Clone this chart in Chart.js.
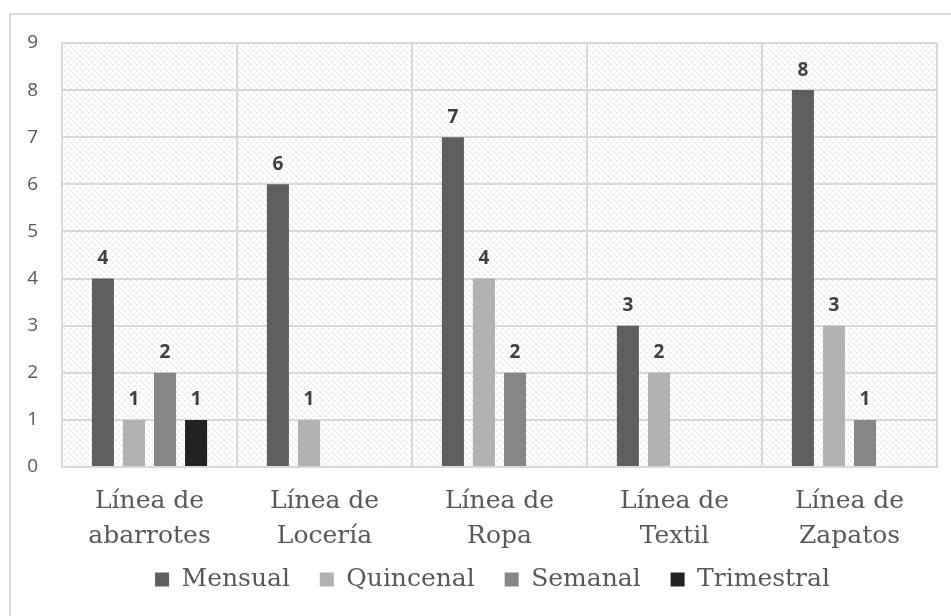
<!DOCTYPE html>
<html lang="es">
<head>
    <meta charset="UTF-8">
    <title>Frecuencia por línea</title>
    <script src="https://cdn.jsdelivr.net/npm/chart.js"></script>
    <style>
        body { margin: 0; background: #fff; }
        #wrap { width: 951px; height: 616px; }
    </style>
</head>
<body>
    <div id="wrap">
        <canvas id="chart" width="951" height="616"></canvas>
    </div>

    <script>
        const categorias = [
            ['Línea de', 'abarrotes'],
            ['Línea de', 'Locería'],
            ['Línea de', 'Ropa'],
            ['Línea de', 'Textil'],
            ['Línea de', 'Zapatos']
        ];
        const mensual = [4, 6, 7, 3, 8];
        const quincenal = [1, 1, 4, 2, 3];
        const semanal = [2, null, 2, null, 1];
        const trimestral = [1, null, null, null, null];
        const yTicks = [0, 1, 2, 3, 4, 5, 6, 7, 8, 9];

        const textColor = '#595959';
        const gridColor = '#d9d9d9';
        const serif = "'DejaVu Serif', serif";
        const sans = "'Open Sans', sans-serif";

        // patron rayado del fondo
        function makeHatch() {
            const c = document.createElement('canvas');
            c.width = 6; c.height = 6;
            const g = c.getContext('2d');
            g.fillStyle = '#ffffff';
            g.fillRect(0, 0, 6, 6);
            g.strokeStyle = '#dcdcdc';
            g.lineWidth = 1.2;
            g.setLineDash([2, 1.5]);
            g.beginPath();
            g.moveTo(-1, -1); g.lineTo(7, 7);
            g.moveTo(-4, 2); g.lineTo(4, 10);
            g.moveTo(2, -4); g.lineTo(10, 4);
            g.stroke();
            return c;
        }

        const fondo = {
            id: 'fondo',
            afterLayout(chart) {
                // la leyenda del original esta algo corrida a la derecha
                chart.legend.left += 24;
                chart.legend.right += 24;
            },
            beforeDraw(chart) {
                const ctx = chart.ctx;
                const a = chart.chartArea;
                ctx.save();
                ctx.fillStyle = '#fff';
                ctx.fillRect(0, 0, chart.width, chart.height);
                ctx.strokeStyle = gridColor;
                ctx.lineWidth = 2;
                ctx.strokeRect(10, 14, chart.width + 20, chart.height + 20);
                ctx.fillStyle = ctx.createPattern(makeHatch(), 'repeat');
                ctx.fillRect(a.left, a.top, a.right - a.left, a.bottom - a.top);
                ctx.restore();
            }
        };

        const etiquetas = {
            id: 'etiquetas',
            afterDatasetsDraw(chart) {
                const ctx = chart.ctx;
                ctx.save();
                ctx.font = 'bold 19px ' + sans;
                ctx.fillStyle = '#404040';
                ctx.textAlign = 'center';
                ctx.textBaseline = 'middle';
                chart.data.datasets.forEach((ds, i) => {
                    chart.getDatasetMeta(i).data.forEach((bar, j) => {
                        const v = ds.data[j];
                        if (v === null || v === undefined) return;
                        ctx.fillText(v, bar.x, bar.y - 20);
                    });
                });
                ctx.restore();
            }
        };

        new Chart(document.getElementById('chart'), {
            type: 'bar',
            data: {
                labels: categorias,
                datasets: [
                    { label: 'Mensual', data: mensual, backgroundColor: '#5f5f5f' },
                    { label: 'Quincenal', data: quincenal, backgroundColor: '#b2b2b2' },
                    { label: 'Semanal', data: semanal, backgroundColor: '#878787' },
                    { label: 'Trimestral', data: trimestral, backgroundColor: '#222222' }
                ]
            },
            options: {
                responsive: false,
                animation: false,
                categoryPercentage: 0.71,
                barPercentage: 0.71,
                layout: { padding: { left: 0, top: 43, right: 14, bottom: 14 } },
                plugins: {
                    legend: {
                        position: 'bottom',
                        labels: {
                            color: textColor,
                            font: { family: serif, size: 25 },
                            boxWidth: 14,
                            boxHeight: 14,
                            padding: 14,
                            generateLabels(chart) {
                                const items = Chart.defaults.plugins.legend.labels.generateLabels(chart);
                                items.forEach((it, i) => {
                                    if (i < items.length - 1) it.text += '  ';
                                });
                                return items;
                            }
                        }
                    },
                    tooltip: { enabled: false }
                },
                scales: {
                    x: {
                        grid: { color: gridColor, lineWidth: 2, drawTicks: false },
                        border: { color: gridColor, width: 2 },
                        ticks: {
                            color: textColor,
                            font: { family: serif, size: 25, lineHeight: 1.4 },
                            padding: 17,
                            maxRotation: 0
                        },
                        afterFit(s) { s.height = 86; }
                    },
                    y: {
                        min: 0,
                        max: 9,
                        grid: { color: gridColor, lineWidth: 2, drawTicks: false },
                        border: { color: gridColor, width: 2 },
                        afterBuildTicks(s) { s.ticks = yTicks.map(v => ({ value: v })); },
                        ticks: {
                            color: textColor,
                            font: { family: sans, size: 19 },
                            padding: 24
                        },
                        afterFit(s) { s.width = 62; }
                    }
                }
            },
            plugins: [fondo, etiquetas]
        });
    </script>
</body>
</html>
